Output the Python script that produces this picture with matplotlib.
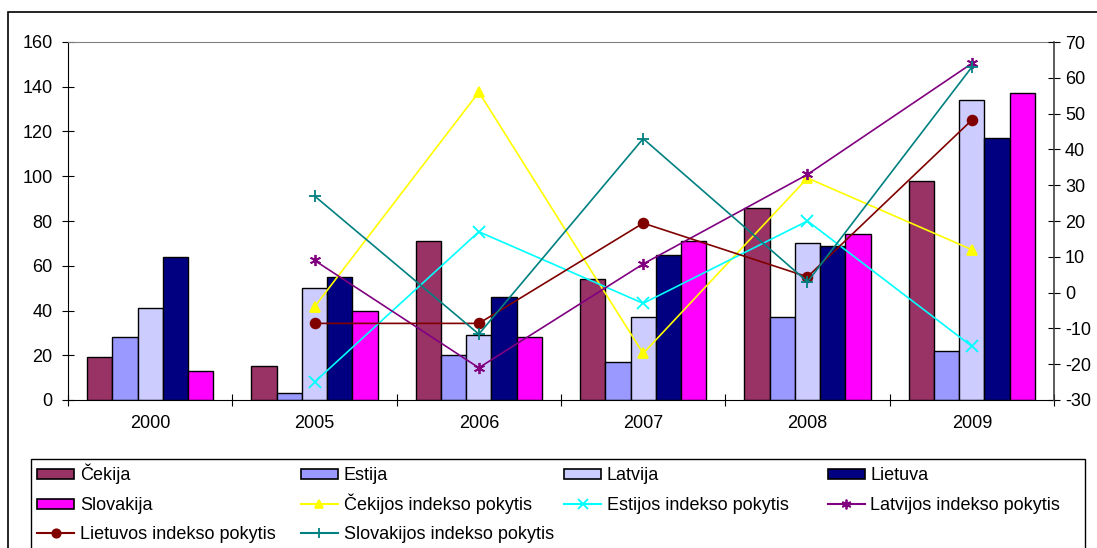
import matplotlib
matplotlib.use("Agg")
import matplotlib.pyplot as plt
import numpy as np
from matplotlib.patches import Rectangle
from matplotlib.lines import Line2D

plt.rcParams["font.family"] = ["Liberation Sans", "DejaVu Sans"]
plt.rcParams["font.size"] = 13
plt.rcParams["axes.unicode_minus"] = False

years = ["2000", "2005", "2006", "2007", "2008", "2009"]

# bars, left axis
bar_names = ["Čekija", "Estija", "Latvija", "Lietuva", "Slovakija"]
cekija = [19, 15, 71, 54, 86, 98]
estija = [28, 3, 20, 17, 37, 22]
latvija = [41, 50, 29, 37, 70, 134]
lietuva = [64, 55, 46, 65, 69, 117]
slovakija = [13, 40, 28, 71, 74, 137]
bar_colors = ["#993366", "#9999FF", "#CCCCFF", "#000080", "#FF00FF"]

# index changes, right axis (no value for 2000)
line_names = ["Čekijos indekso pokytis", "Estijos indekso pokytis",
              "Latvijos indekso pokytis", "Lietuvos indekso pokytis",
              "Slovakijos indekso pokytis"]
cekijos_pok = [np.nan, -4, 56, -17, 32, 12]
estijos_pok = [np.nan, -25, 17, -3, 20, -15]
latvijos_pok = [np.nan, 9, -21, 8, 33, 64]
lietuvos_pok = [np.nan, -8.6, -8.6, 19.4, 4.4, 48.2]
slovakijos_pok = [np.nan, 27, -11.6, 43, 3, 63]
line_colors = ["#FFFF00", "#00FFFF", "#800080", "#800000", "#008080"]
line_markers = ["^", "x", (6, 2, 0), "o", "+"]

W, H = 1097, 548
fig = plt.figure(figsize=(W / 100, H / 100), dpi=100)

# outer chart frame and legend frame (run off the image bottom/right)
fig.patches.append(Rectangle((8 / W, -0.1), 1.2, 1.1 - 12 / H, transform=fig.transFigure,
                             fill=False, edgecolor="black", linewidth=1.2))
fig.patches.append(Rectangle((31 / W, -0.1), (1085 - 31) / W, 0.1 + 1 - 459 / H,
                             transform=fig.transFigure, fill=False, edgecolor="black",
                             linewidth=1.0))

ax = fig.add_axes([68 / W, 1 - 400 / H, (1054 - 68) / W, (400 - 42) / H])
x = np.arange(len(years))
width = 0.154
for i, (vals, c, name) in enumerate(zip([cekija, estija, latvija, lietuva, slovakija],
                                        bar_colors, bar_names)):
    ax.bar(x + (i - 2) * width, vals, width, color=c, edgecolor="black",
           linewidth=1.0, label=name, zorder=2)

ax.set_xlim(-0.5, len(years) - 0.5)
ax.set_ylim(0, 160)
ax.set_yticks(np.arange(0, 161, 20))
ax.set_xticks(np.arange(-0.5, len(years), 1.0))
ax.set_xticklabels([])
ax.set_xticks(x, minor=True)
ax.set_xticklabels(years, minor=True)
ax.tick_params(axis="x", which="minor", length=0, pad=11)
ax.tick_params(axis="x", which="major", direction="inout", length=8)
ax.tick_params(axis="y", direction="inout", length=8, pad=7)
ax.spines["top"].set_color("#808080")
ax.spines["right"].set_visible(False)

ax2 = ax.twinx()
for vals, c, m, name in zip([cekijos_pok, estijos_pok, latvijos_pok, lietuvos_pok,
                             slovakijos_pok], line_colors, line_markers, line_names):
    ms = 8 if m in ("x", "+", (6, 2, 0)) else 7
    ax2.plot(x, vals, color=c, marker=m, markersize=ms, linewidth=1.2,
             markeredgewidth=1.3, label=name)
ax2.set_ylim(-30, 70)
ax2.set_yticks(np.arange(-30, 71, 10))
ax2.tick_params(axis="y", direction="inout", length=8, pad=4)
ax2.spines["right"].set_color("#404040")
ax2.spines["right"].set_linewidth(1.2)
for s in ["top", "left", "bottom"]:
    ax2.spines[s].set_visible(False)

# legend: four equal columns, filled row by row (Excel style)
col_w = (1085 - 31) / 4
row_y = [474, 504, 533]
entries = [("bar", n, c, None) for n, c in zip(bar_names, bar_colors)] + \
          [("line", n, c, m) for n, c, m in zip(line_names, line_colors, line_markers)]
for k, (kind, name, c, m) in enumerate(entries):
    x0 = 37 + (k % 4) * col_w
    y0 = row_y[k // 4]
    if kind == "bar":
        fig.patches.append(Rectangle((x0 / W, 1 - (y0 + 5) / H), 37 / W, 10 / H,
                                     transform=fig.transFigure, facecolor=c,
                                     edgecolor="black", linewidth=1.2))
    else:
        ms = 7 if m in ("x", "+", (6, 2, 0)) else 6
        fig.lines.append(Line2D([x0 / W, (x0 + 37) / W], [1 - y0 / H] * 2,
                                transform=fig.transFigure, color=c, linewidth=1.5))
        fig.lines.append(Line2D([(x0 + 18.5) / W], [1 - y0 / H], transform=fig.transFigure,
                                color=c, marker=m, markersize=ms, markeredgewidth=1.3,
                                linestyle="none"))
    fig.text((x0 + 43) / W, 1 - (y0 + 6) / H, name, ha="left", va="baseline")

fig.savefig("out.png", dpi=100)
